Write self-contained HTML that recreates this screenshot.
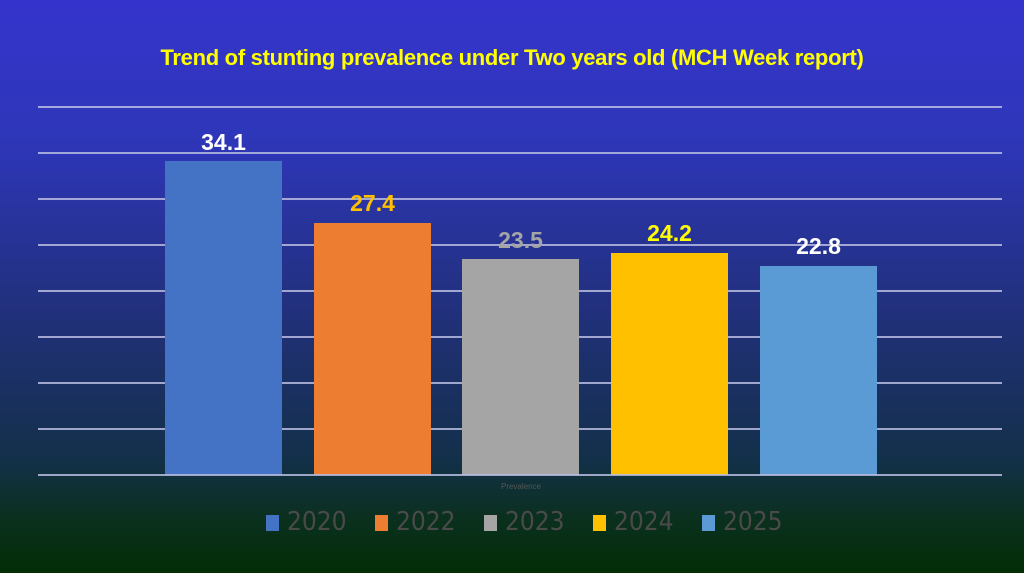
<!DOCTYPE html>
<html><head><style>
body{margin:0;width:1024px;height:573px;overflow:hidden;font-family:"Liberation Sans",sans-serif;
background:linear-gradient(to bottom,#3434cc 0%,#2e36b8 25%,#21307a 55%,#13304a 80%,#0b3020 90%,#022d05 100%);position:relative}
.g{position:absolute;left:38px;width:964px;height:2px;background:#b8bce0;opacity:.85}
.b{position:absolute;width:117px}
.l{position:absolute;width:117px;text-align:center;font-weight:bold;font-size:23px}
.lg{position:absolute;top:507px;font-size:26px;color:#4a4a4a;font-family:"DejaVu Sans Condensed","Liberation Sans",sans-serif}
.lg span{display:inline-block;width:13px;height:16px;margin-right:8px;vertical-align:-1px}
</style></head><body>
<div style="position:absolute;top:45px;width:1024px;text-align:center;color:#ffff00;font-weight:bold;font-size:22px;letter-spacing:-0.3px">Trend of  stunting prevalence under Two years old (MCH Week report)</div>
<div class="g" style="top:106px"></div><div class="g" style="top:152px"></div><div class="g" style="top:198px"></div>
<div class="g" style="top:244px"></div><div class="g" style="top:290px"></div><div class="g" style="top:336px"></div>
<div class="g" style="top:382px"></div><div class="g" style="top:428px"></div>
<div class="b" style="left:165px;top:161px;height:314px;background:#4472c4"></div>
<div class="b" style="left:314px;top:223px;height:252px;background:#ed7d31"></div>
<div class="b" style="left:462px;top:259px;height:216px;background:#a5a5a5"></div>
<div class="b" style="left:611px;top:253px;height:222px;background:#ffc000"></div>
<div class="b" style="left:760px;top:266px;height:209px;background:#5b9bd5"></div>
<div class="g" style="top:474px"></div>
<div class="l" style="left:165px;top:129px;color:#fff">34.1</div>
<div class="l" style="left:314px;top:190px;color:#ffc000">27.4</div>
<div class="l" style="left:462px;top:227px;color:#a5a5a5">23.5</div>
<div class="l" style="left:611px;top:220px;color:#ffff00">24.2</div>
<div class="l" style="left:760px;top:233px;color:#fff">22.8</div>
<div style="position:absolute;top:482px;width:1042px;text-align:center;font-size:8px;color:#555">Prevalence</div>
<div class="lg" style="left:266px"><span style="background:#4472c4"></span>2020</div>
<div class="lg" style="left:375px"><span style="background:#ed7d31"></span>2022</div>
<div class="lg" style="left:484px"><span style="background:#a5a5a5"></span>2023</div>
<div class="lg" style="left:593px"><span style="background:#ffc000"></span>2024</div>
<div class="lg" style="left:702px"><span style="background:#5b9bd5"></span>2025</div>
</body></html>
